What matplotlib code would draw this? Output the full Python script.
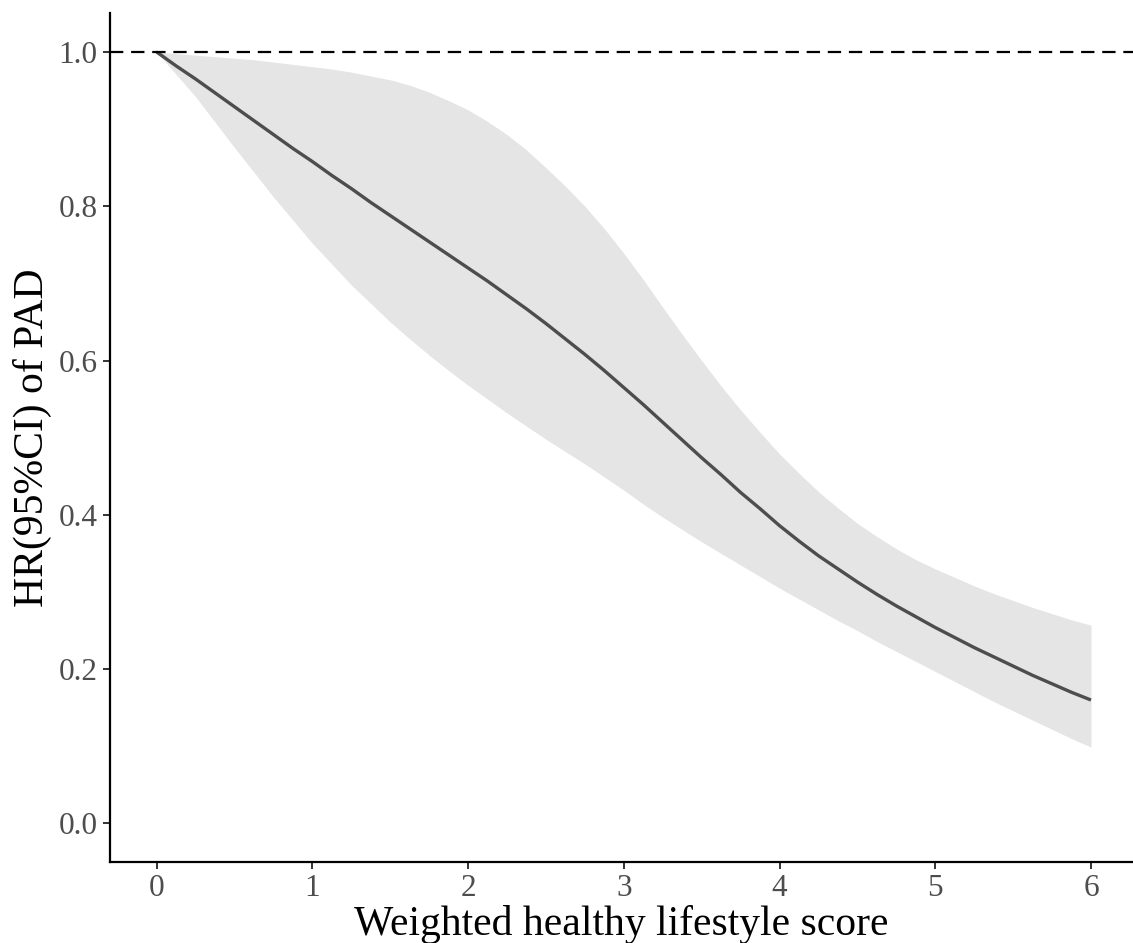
import numpy as np
import matplotlib
matplotlib.use("Agg")
import matplotlib.pyplot as plt

# values, x step 0.125 from 0 to 6
score = np.arange(0, 6.001, 0.125)
hr = [1.000, 0.982, 0.965, 0.947, 0.929, 0.911, 0.893, 0.875, 0.858, 0.840,
      0.823, 0.805, 0.788, 0.771, 0.754, 0.737, 0.720, 0.703, 0.685, 0.667,
      0.648, 0.628, 0.608, 0.587, 0.565, 0.543, 0.520, 0.497, 0.474, 0.452,
      0.429, 0.408, 0.386, 0.366, 0.347, 0.330, 0.313, 0.297, 0.282, 0.268,
      0.254, 0.241, 0.228, 0.216, 0.204, 0.192, 0.181, 0.170, 0.160]
hr_upper = [1.000, 0.998, 0.996, 0.994, 0.992, 0.990, 0.987, 0.984, 0.981, 0.978,
            0.974, 0.969, 0.964, 0.957, 0.948, 0.937, 0.925, 0.910, 0.893, 0.873,
            0.850, 0.826, 0.800, 0.771, 0.739, 0.705, 0.669, 0.634, 0.600, 0.567,
            0.536, 0.507, 0.479, 0.454, 0.430, 0.409, 0.389, 0.372, 0.356, 0.342,
            0.330, 0.319, 0.308, 0.298, 0.289, 0.280, 0.272, 0.264, 0.257]
hr_lower = [1.000, 0.971, 0.942, 0.909, 0.876, 0.844, 0.812, 0.782, 0.752, 0.725,
            0.698, 0.674, 0.650, 0.628, 0.607, 0.587, 0.568, 0.550, 0.532, 0.515,
            0.498, 0.482, 0.466, 0.449, 0.432, 0.414, 0.397, 0.381, 0.365, 0.350,
            0.335, 0.320, 0.305, 0.291, 0.277, 0.263, 0.250, 0.236, 0.223, 0.210,
            0.197, 0.184, 0.171, 0.158, 0.146, 0.134, 0.122, 0.110, 0.099]

x_ticks = [0, 1, 2, 3, 4, 5, 6]
y_ticks = [0.0, 0.2, 0.4, 0.6, 0.8, 1.0]

plt.rcParams['font.family'] = ['Liberation Serif', 'DejaVu Serif']

fig = plt.figure(figsize=(11.33, 9.43), dpi=100)
ax = fig.add_axes([0.0971, 0.0859, 0.9029, 0.8998])

ax.fill_between(score, hr_lower, hr_upper, color='#e5e5e5', lw=0)
ax.plot(score, hr, color='#4d4d4d', lw=2.4, solid_capstyle='butt', solid_joinstyle='round')
ax.axhline(1.0, color='black', lw=1.6, ls=(0, (6, 3.5)))

ax.set_xlim(-0.3, 6.27)
ax.set_ylim(-0.05, 1.05)
ax.set_xticks(x_ticks)
ax.set_xticklabels([str(v) for v in x_ticks])
ax.set_yticks(y_ticks)
ax.set_yticklabels(['%.1f' % v for v in y_ticks])

for s in ['top', 'right']:
    ax.spines[s].set_visible(False)
for s in ['left', 'bottom']:
    ax.spines[s].set_linewidth(1.6)
    ax.spines[s].set_color('black')

ax.tick_params(axis='both', length=5, width=1.4, color='#333333',
               labelsize=22.5, labelcolor='#4d4d4d', pad=4)

ax.set_xlabel('Weighted healthy lifestyle score', fontsize=30, color='black', labelpad=1)
ax.set_ylabel('HR(95%CI) of PAD', fontsize=30, color='black', labelpad=5)

fig.savefig('out.png', dpi=100)
